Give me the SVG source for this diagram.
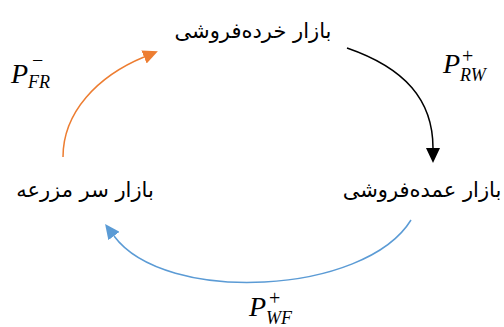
<svg xmlns="http://www.w3.org/2000/svg" width="504" height="327" viewBox="0 0 504 327">
<style>
.fa{font-family:"DejaVu Sans","Noto Sans",sans-serif;font-size:21px;fill:#000;text-anchor:middle;direction:rtl}
.m{font-family:"Liberation Serif",serif;font-style:italic;fill:#000}
.P{font-size:28px}
.sub{font-size:18px}
.sup{font-size:20px;font-style:normal}
.c{fill:none;stroke-width:1.5}
</style>
<defs>
<marker id="aO" viewBox="0 -7 15 14" refX="0" refY="0" markerWidth="15" markerHeight="14" markerUnits="userSpaceOnUse" orient="auto"><path d="M0,-7L15,0L0,7z" fill="#ED7D31"/></marker>
<marker id="aK" viewBox="0 -7 15 14" refX="0" refY="0" markerWidth="15" markerHeight="14" markerUnits="userSpaceOnUse" orient="auto"><path d="M0,-7L15,0L0,7z" fill="#000"/></marker>
<marker id="aB" viewBox="0 -7 15 14" refX="0" refY="0" markerWidth="15" markerHeight="14" markerUnits="userSpaceOnUse" orient="auto"><path d="M0,-7L15,0L0,7z" fill="#5B9BD5"/></marker>
</defs>
<rect width="504" height="327" fill="#fff"/>
<g id="connectors">
<path class="c" stroke="#ED7D31" d="M63,157C63,112 98,76 144,57" marker-end="url(#aO)"/>
<path class="c" stroke="#000" d="M347,48C405,68 433,100 433,148" marker-end="url(#aK)"/>
<path class="c" stroke="#5B9BD5" d="M411,220C365,295 165,305 114,236" marker-end="url(#aB)"/>
</g>
<g id="retail"><text class="fa" x="253" y="38">بازار خرده‌فروشی</text></g>
<g id="wholesale"><text class="fa" x="422" y="197">بازار عمده‌فروشی</text></g>
<g id="farm"><text class="fa" x="85" y="197">بازار سر مزرعه</text></g>
<g id="label-fr"><text class="m P" x="11" y="83">P</text><text class="m sup" x="32" y="67">−</text><text class="m sub" x="28" y="88">FR</text></g>
<g id="label-rw"><text class="m P" x="443" y="73">P</text><text class="m sup" x="462" y="63">+</text><text class="m sub" x="460" y="81">RW</text></g>
<g id="label-wf"><text class="m P" x="249" y="316">P</text><text class="m sup" x="269" y="305">+</text><text class="m sub" x="266" y="324">WF</text></g>
</svg>
